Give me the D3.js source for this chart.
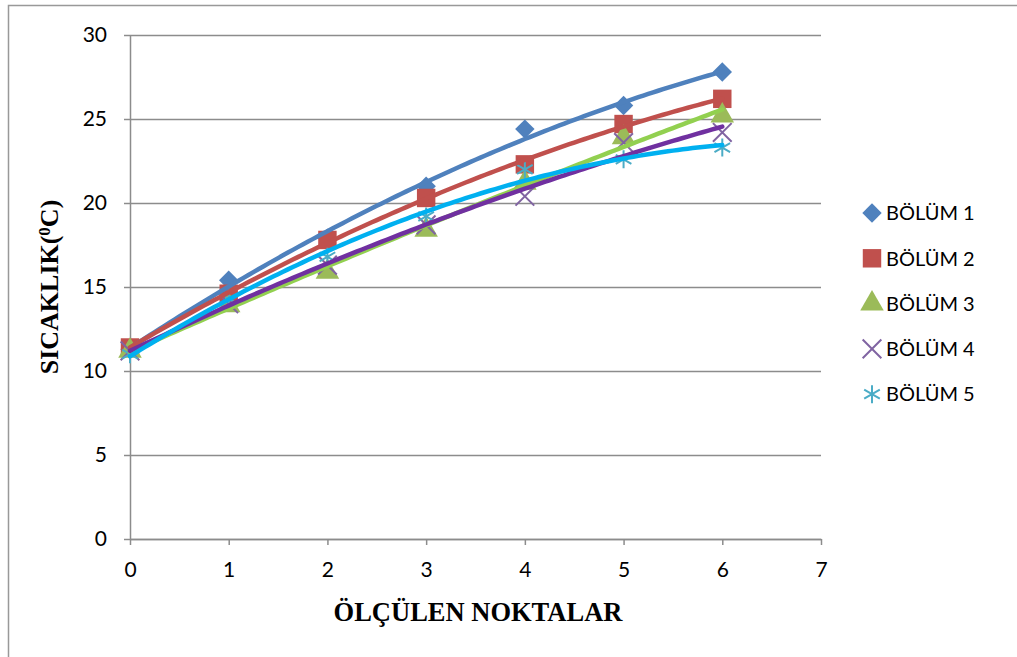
<!DOCTYPE html>
<html>
<head>
<meta charset="utf-8">
<script src="https://cdn.jsdelivr.net/npm/d3@7"></script>
<style>
  body { margin: 0; background: #fff; }
  svg { display: block; }
  .tick text { font-family: Lato, 'Open Sans', sans-serif; font-size: 21px; fill: #000; }
</style>
</head>
<body>
<div id="chart"></div>
<script>
// measurement points
const points = [0, 1, 2, 3, 4, 5, 6];
const seriesNames = ['BÖLÜM 1', 'BÖLÜM 2', 'BÖLÜM 3', 'BÖLÜM 4', 'BÖLÜM 5'];
const bolum1 = [11.3, 15.4, 17.9, 21.0, 24.4, 25.8, 27.8];
const bolum2 = [11.4, 14.6, 17.8, 20.3, 22.3, 24.7, 26.2];
const bolum3 = [11.2, 13.9, 15.9, 18.4, 21.2, 23.9, 25.2];
const bolum4 = [11.2, 14.0, 16.3, 18.7, 20.4, 23.6, 24.2];
const bolum5 = [11.0, 14.3, 16.8, 19.2, 22.0, 22.6, 23.3];
const yTicks = [0, 5, 10, 15, 20, 25, 30];
const xTicks = [0, 1, 2, 3, 4, 5, 6, 7];

const markerColors = ['#4F81BD', '#C0504D', '#9BBB59', '#8064A2', '#4BACC6'];
const trendColors = ['#4F81BD', '#C0504D', '#92D050', '#7030A0', '#00B0F0'];
const allSeries = [bolum1, bolum2, bolum3, bolum4, bolum5];

const width = 1017;
const height = 657;

const svg = d3.select('#chart')
  .append('svg')
  .attr('width', width)
  .attr('height', height);

// outer frame
svg.append('rect')
  .attr('x', 8.5).attr('y', 5.5)
  .attr('width', 1020).attr('height', 660)
  .attr('fill', 'none')
  .attr('stroke', '#999')
  .attr('stroke-width', 1.5);

const xScale = d3.scaleLinear().domain([0, 7]).range([130, 821]);
const yScale = d3.scaleLinear().domain([0, 30]).range([539, 35]);

// gridlines
svg.append('g')
  .attr('transform', 'translate(130,0)')
  .call(d3.axisLeft(yScale).tickValues(yTicks).tickFormat('').tickSize(-(821 - 130)))
  .call(g => g.select('.domain').remove())
  .call(g => g.selectAll('line').attr('stroke', '#8c8c8c').attr('stroke-width', 1.5));

// y axis
svg.append('g')
  .attr('transform', 'translate(130,0)')
  .call(d3.axisLeft(yScale).tickValues(yTicks).tickFormat(d3.format('d'))
    .tickSize(6).tickPadding(17).tickSizeOuter(0))
  .call(g => g.select('.domain').attr('stroke', '#8c8c8c').attr('stroke-width', 1.5))
  .call(g => g.selectAll('line').attr('stroke', '#8c8c8c').attr('stroke-width', 1.5));

// x axis
svg.append('g')
  .attr('transform', 'translate(0,539)')
  .call(d3.axisBottom(xScale).tickValues(xTicks).tickFormat(d3.format('d'))
    .tickSize(6).tickPadding(17).tickSizeOuter(0))
  .call(g => g.select('.domain').attr('stroke', '#8c8c8c').attr('stroke-width', 1.5))
  .call(g => g.selectAll('line').attr('stroke', '#8c8c8c').attr('stroke-width', 1.5));

// axis titles
svg.append('text')
  .attr('x', 478).attr('y', 621)
  .attr('text-anchor', 'middle')
  .style('font-family', "'Liberation Serif', serif")
  .style('font-weight', 'bold')
  .style('font-size', '26.5px')
  .text('ÖLÇÜLEN NOKTALAR');

const yTitle = svg.append('text')
  .attr('transform', 'translate(58,287) rotate(-90)')
  .attr('text-anchor', 'middle')
  .style('font-family', "'Liberation Serif', serif")
  .style('font-weight', 'bold')
  .style('font-size', '26px');
yTitle.append('tspan').text('SICAKLIK(');
yTitle.append('tspan').attr('dy', -8).style('font-size', '17px').text('0');
yTitle.append('tspan').attr('dy', 8).text('C)');

// quadratic least squares trendline, like the spreadsheet did
function polyFit(xs, ys) {
  const n = xs.length;
  let s = [0, 0, 0, 0, 0], t = [0, 0, 0];
  for (let i = 0; i < n; i++) {
    for (let k = 0; k < 5; k++) s[k] += Math.pow(xs[i], k);
    for (let k = 0; k < 3; k++) t[k] += ys[i] * Math.pow(xs[i], k);
  }
  const m = [[s[0], s[1], s[2], t[0]], [s[1], s[2], s[3], t[1]], [s[2], s[3], s[4], t[2]]];
  for (let i = 0; i < 3; i++) {
    for (let j = i + 1; j < 3; j++) {
      const f = m[j][i] / m[i][i];
      for (let k = i; k < 4; k++) m[j][k] -= f * m[i][k];
    }
  }
  const c = [0, 0, 0];
  for (let i = 2; i >= 0; i--) {
    let v = m[i][3];
    for (let k = i + 1; k < 3; k++) v -= m[i][k] * c[k];
    c[i] = v / m[i][i];
  }
  return x => c[0] + c[1] * x + c[2] * x * x;
}

const symbols = [
  d3.symbol().type(d3.symbolDiamond2).size(240),
  d3.symbol().type(d3.symbolSquare).size(340),
  d3.symbol().type(d3.symbolTriangle).size(240),
  d3.symbol().type(d3.symbolTimes).size(230),
  d3.symbol().type(d3.symbolAsterisk).size(230)
];
const filled = [true, true, true, false, false];

function drawMarker(g, i, x, y) {
  const p = g.append('path')
    .attr('d', symbols[i]())
    .attr('transform', `translate(${x},${y})`);
  if (filled[i]) p.attr('fill', markerColors[i]);
  else p.attr('fill', 'none').attr('stroke', markerColors[i]).attr('stroke-width', 2);
}

// markers
const markers = svg.append('g');
allSeries.forEach((vals, i) => {
  vals.forEach((v, j) => drawMarker(markers, i, xScale(points[j]), yScale(v)));
});

// trendlines on top
const lineGen = d3.line().x(d => xScale(d[0])).y(d => yScale(d[1]));
const trendGroup = svg.append('g');
allSeries.forEach((vals, i) => {
  const f = polyFit(points, vals);
  const pts = d3.range(0, 6.001, 0.05).map(x => [x, f(x)]);
  trendGroup.append('path')
    .attr('d', lineGen(pts))
    .attr('fill', 'none')
    .attr('stroke', trendColors[i])
    .attr('stroke-width', 4.5)
    .attr('stroke-linecap', 'round');
});

// legend
const legend = svg.append('g');
seriesNames.forEach((name, i) => {
  const y = 213 + i * 45.3;
  drawMarker(legend, i, 872, y);
  legend.append('text')
    .attr('x', 886).attr('y', y)
    .attr('dy', '0.36em')
    .style('font-family', "Lato, 'Open Sans', sans-serif")
    .style('font-size', '20px')
    .text(name);
});
</script>
</body>
</html>
